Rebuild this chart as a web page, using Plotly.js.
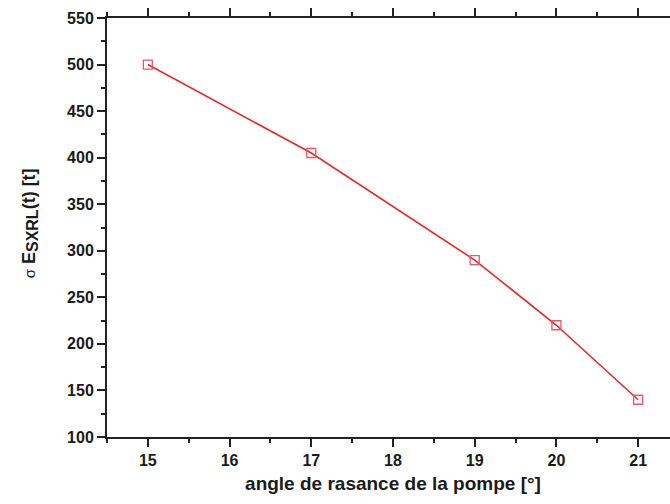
<!DOCTYPE html>
<html>
<head>
<meta charset="utf-8">
<script src="https://cdn.plot.ly/plotly-3.0.1.min.js"></script>
<style>
html,body{margin:0;padding:0;overflow:hidden;width:670px;height:504px;background:#fff;}
#chart{width:700px;height:504px;}
</style>
</head>
<body>
<div id="chart"></div>
<script>
const angles = [15, 17, 19, 20, 21];
const sigmaE = [500, 405, 290, 220, 140];
const xTitle = "angle de rasance de la pompe [°]";
const yTitle = '<span style="font-size:15px;font-weight:normal">σ</span> E<sub><span style="font-size:16px">SXRL</span></sub>(t) [t]';

const FAM = 'Liberation Sans, Arial, sans-serif';

const trace = {
  x: angles,
  y: sigmaE,
  type: 'scatter',
  mode: 'lines+markers',
  line: {color: '#e02a2a', width: 1.6},
  marker: {symbol: 'square-open', size: 9, color: '#e8586a', line: {width: 1.3, color: '#e8586a'}},
  showlegend: false
};

const tickFont = {family: FAM, size: 16, color: '#1a1a1a', weight: 'bold'};

const layout = {
  width: 700,
  height: 504,
  margin: {l: 107, r: 21, t: 18, b: 67},
  paper_bgcolor: '#fff',
  plot_bgcolor: '#fff',
  font: {family: FAM, size: 16, color: '#1a1a1a', weight: 'bold'},
  xaxis: {
    range: [14.5, 21.5],
    dtick: 1,
    tick0: 15,
    ticks: 'outside',
    ticklen: 8,
    tickwidth: 2,
    tickcolor: '#222',
    showline: true,
    linewidth: 2,
    linecolor: '#222',
    mirror: 'ticks',
    showgrid: false,
    zeroline: false,
    tickfont: tickFont,
    minor: {dtick: 0.5, ticks: 'outside', ticklen: 4, tickwidth: 2, tickcolor: '#222', showgrid: false},
    title: {text: xTitle, font: {family: FAM, size: 19, color: '#1a1a1a', weight: 'bold'}, standoff: 8}
  },
  yaxis: {
    range: [100, 550],
    dtick: 50,
    tick0: 100,
    ticks: 'outside',
    ticklen: 8,
    tickwidth: 2,
    tickcolor: '#222',
    showline: true,
    linewidth: 2,
    linecolor: '#222',
    mirror: 'ticks',
    showgrid: false,
    zeroline: false,
    tickfont: tickFont,
    minor: {dtick: 25, ticks: 'outside', ticklen: 4, tickwidth: 2, tickcolor: '#222', showgrid: false}
  },
  annotations: [{
    text: yTitle,
    xref: 'paper', yref: 'paper',
    x: 0, y: 0.51,
    xanchor: 'center', yanchor: 'middle',
    xshift: -77,
    textangle: -90,
    showarrow: false,
    font: {family: FAM, size: 18, color: '#1a1a1a', weight: 'bold'}
  }]
};

Plotly.newPlot('chart', [trace], layout, {displayModeBar: false, staticPlot: true});
</script>
</body>
</html>
